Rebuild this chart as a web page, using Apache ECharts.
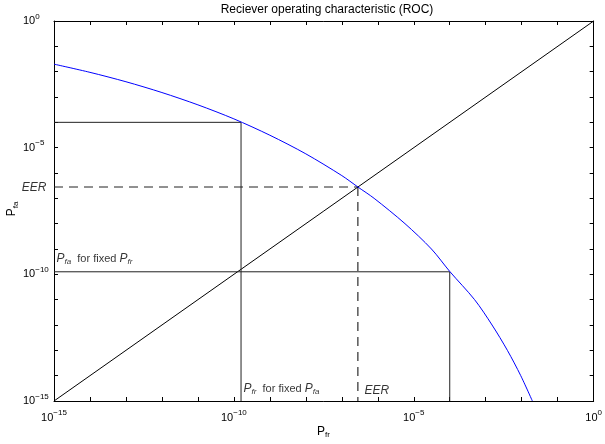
<!DOCTYPE html>
<html><head><meta charset="utf-8">
<script src="https://cdn.jsdelivr.net/npm/echarts@6/dist/echarts.min.js"></script>
<style>html,body{margin:0;padding:0;background:#fff}#c{width:605px;height:444px}</style>
</head><body><div id="c"></div>
<script>
const titleText = 'Reciever operating characteristic (ROC)';
const axisMin = 1e-15, axisMax = 1;
const labelExponents = [-15, -10, -5, 0];
// ROC curve (P_fr, P_fa)
const rocPfr = [1e-15, 1e-14, 1e-13, 1e-12, 1e-11, 1e-10, 1e-9, 1e-8, 1e-7, 2.8e-7, 7.9e-7, 5.7e-6, 3.1e-5, 1e-4, 4.9e-4, 1.5e-3, 4.0e-3, 9.4e-3, 1.98e-2];
const rocPfa = [1.98e-2, 9.4e-3, 4.0e-3, 1.5e-3, 4.9e-4, 1.37e-4, 3.1e-5, 5.7e-6, 7.9e-7, 2.8e-7, 1e-7, 1e-8, 1e-9, 1.3e-10, 1e-11, 1e-12, 1e-13, 1e-14, 1e-15];
const diagonalPfr = [1e-15, 1];
const diagonalPfa = [1e-15, 1];
// fixed P_fa construction
const fixedPfaLinePfr = [1e-15, 1.58e-10, 1.58e-10];
const fixedPfaLinePfa = [1e-4, 1e-4, 1e-15];
// fixed P_fr construction
const fixedPfrLinePfr = [1e-15, 1e-4, 1e-4];
const fixedPfrLinePfa = [1.26e-10, 1.26e-10, 1e-15];
// EER construction
const eerHLinePfr = [1e-15, 2.8e-7];
const eerHLinePfa = [2.8e-7, 2.8e-7];
const eerVLinePfr = [2.8e-7, 2.8e-7];
const eerVLinePfa = [2.8e-7, 1e-15];

const FONT = '"Liberation Sans", Arial, Helvetica, sans-serif';
const zip = (a, b) => a.map((x, i) => [x, b[i]]);

function tickFmt(v) {
  const e = Math.round(Math.log10(v));
  if (labelExponents.indexOf(e) < 0) return '';
  return '{b|10}{s|' + (e < 0 ? '\u2212' + (-e) : String(e)) + '}';
}
const tickRich = {
  b: { fontSize: 11, fontFamily: FONT, color: '#000' },
  s: { fontSize: 8, fontFamily: FONT, color: '#000', padding: [0, 0, 9, 0] }
};
const annRich = {
  i: { fontSize: 12, fontStyle: 'italic', fontFamily: FONT, color: '#000' },
  p: { fontSize: 12, fontStyle: 'italic', fontFamily: FONT, color: '#000' },
  u: { fontSize: 8, fontStyle: 'italic', fontFamily: FONT, color: '#000', padding: [6, 0, 0, 0] },
  n: { fontSize: 11, fontFamily: FONT, color: '#000' }
};

function baseAxis(extra) {
  return Object.assign({
    type: 'log', logBase: 10, min: axisMin, max: axisMax, interval: 1,
    splitLine: { show: false },
    axisLine: { show: true, lineStyle: { color: '#000', width: 1 } },
    axisTick: { show: true, inside: true, length: 4, lineStyle: { color: '#000' } },
    minorTick: { show: false }
  }, extra);
}

function lineSeries(data, color, type) {
  return {
    type: 'line', data: data, symbol: 'none', silent: true,
    lineStyle: { color: color, width: 1, type: type || 'solid' }
  };
}
function labelSeries(pt, text, position, distance, offset) {
  return {
    type: 'scatter', data: [pt], symbolSize: 1, silent: true,
    itemStyle: { color: 'rgba(0,0,0,0)' },
    label: { show: true, formatter: text, position: position, distance: distance, offset: offset, rich: annRich }
  };
}

const nameRich = {
  p: { fontSize: 12, fontFamily: FONT, fill: '#000' },
  s: { fontSize: 8, fontFamily: FONT, fill: '#000', padding: [7, 0, 0, 0] }
};

const chart = echarts.init(document.getElementById('c'), null, { renderer: 'canvas' });
chart.setOption({
  animation: false,
  backgroundColor: '#fff',
  grid: { left: 54, right: 9, top: 21, bottom: 43, containLabel: false },
  xAxis: [
    baseAxis({ position: 'bottom', axisLabel: { formatter: tickFmt, rich: tickRich, margin: 8 } }),
    baseAxis({ position: 'top', axisLabel: { show: false } })
  ],
  yAxis: [
    baseAxis({ position: 'left', axisLabel: { formatter: tickFmt, rich: tickRich, align: 'left', margin: 31 } }),
    baseAxis({ position: 'right', axisLabel: { show: false } })
  ],
  graphic: [
    { type: 'text', x: 327, y: 4, silent: true,
      style: { text: titleText, fontSize: 12, fontFamily: FONT, fill: '#000', align: 'center', verticalAlign: 'top' } },
    { type: 'text', x: 317, y: 424, silent: true,
      style: { text: '{p|P}{s|fr}', align: 'left', verticalAlign: 'top', rich: nameRich } },
    { type: 'text', x: 12, y: 209, rotation: Math.PI / 2, silent: true,
      style: { text: '{p|P}{s|fa}', align: 'center', verticalAlign: 'middle', rich: nameRich } }
  ],
  series: [
    lineSeries(zip(diagonalPfr, diagonalPfa), '#000'),
    lineSeries(zip(fixedPfaLinePfr, fixedPfaLinePfa), '#222'),
    lineSeries(zip(fixedPfrLinePfr, fixedPfrLinePfa), '#222'),
    lineSeries(zip(eerHLinePfr, eerHLinePfa), '#222', [9, 6]),
    lineSeries(zip(eerVLinePfr, eerVLinePfa), '#000', [9, 6]),
    Object.assign(lineSeries(zip(rocPfr, rocPfa), '#0000ff'), { smooth: 0.3 }),
    labelSeries([eerHLinePfr[0], eerHLinePfa[0]], '{i|EER}', 'left', 7, [0, 1]),
    labelSeries([fixedPfrLinePfr[0], fixedPfrLinePfa[0]], '{p|P}{u|fa}{n|  for fixed }{p|P}{u|fr}', 'right', 2, [0, -13]),
    labelSeries([fixedPfaLinePfr[1], fixedPfaLinePfa[2]], '{p|P}{u|fr}{n|  for fixed }{p|P}{u|fa}', 'right', 2, [0, -12]),
    labelSeries([eerVLinePfr[1], eerVLinePfa[1]], '{i|EER}', 'right', 6, [0, -10])
  ]
});
</script>
</body></html>
